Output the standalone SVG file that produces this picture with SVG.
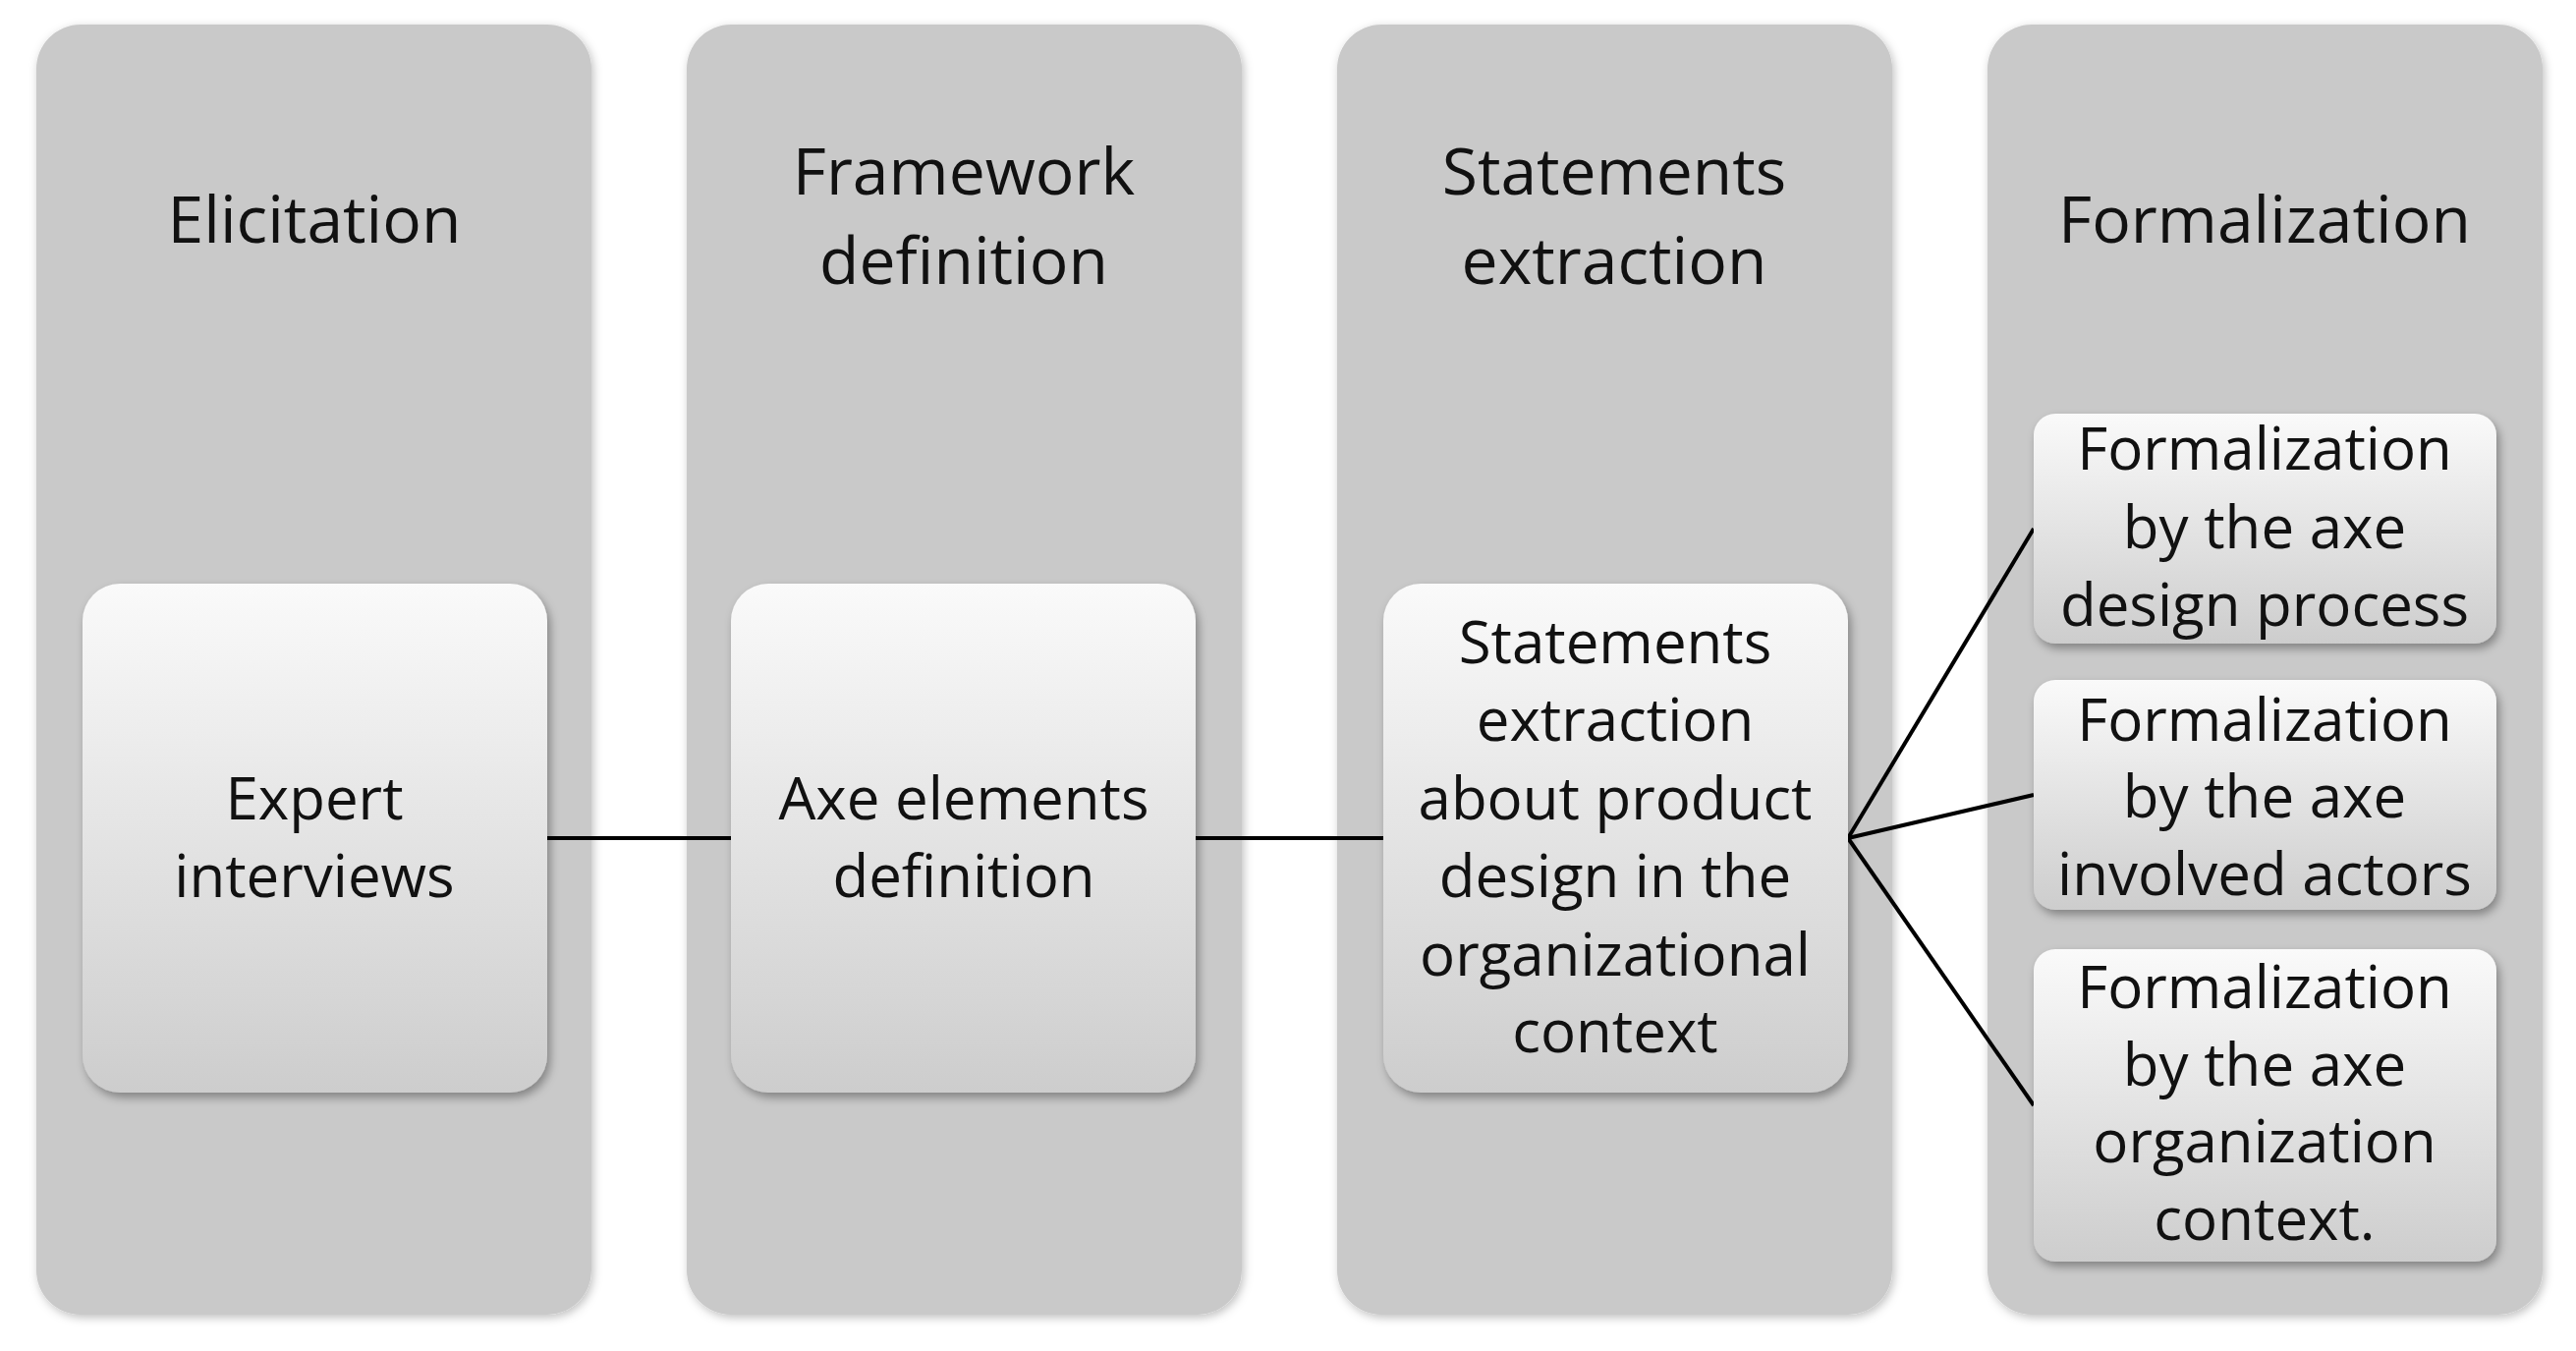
<svg xmlns="http://www.w3.org/2000/svg" width="2622" height="1375" viewBox="0 0 2622 1375">
<style>
.col{fill:#c9c9c9}
.box{fill:url(#g);filter:url(#sh)}
.t{font-family:"Open Sans",sans-serif;font-size:66px;fill:#111;text-anchor:middle;dominant-baseline:central}
.s{font-family:"Open Sans",sans-serif;font-size:60px;fill:#111;text-anchor:middle;dominant-baseline:central}
.c{stroke:#000;stroke-width:4;fill:none}
</style>
<defs>
<linearGradient id="g" x1="0" y1="0" x2="0" y2="1"><stop offset="0" stop-color="#fafafa"/><stop offset="1" stop-color="#cdcdcd"/></linearGradient>
<filter id="sh" x="-10%" y="-10%" width="130%" height="130%"><feDropShadow dx="3" dy="5" stdDeviation="5" flood-color="#000" flood-opacity="0.35"/></filter>
<filter id="sh2" x="-10%" y="-10%" width="130%" height="130%"><feDropShadow dx="2" dy="3" stdDeviation="5" flood-color="#000" flood-opacity="0.25"/></filter>
</defs>
<rect width="2622" height="1375" fill="#fff"/>
<g id="col1"><rect class="col" filter="url(#sh2)" x="37" y="25" width="565" height="1313" rx="45"/><text class="t" x="320" y="221">Elicitation</text></g>
<g id="col2"><rect class="col" filter="url(#sh2)" x="699" y="25" width="565" height="1313" rx="45"/><text class="t" x="981" y="172">Framework</text><text class="t" x="981" y="263">definition</text></g>
<g id="col3"><rect class="col" filter="url(#sh2)" x="1361" y="25" width="565" height="1313" rx="45"/><text class="t" x="1643" y="172">Statements</text><text class="t" x="1643" y="263">extraction</text></g>
<g id="col4"><rect class="col" filter="url(#sh2)" x="2023" y="25" width="565" height="1313" rx="45"/><text class="t" x="2305" y="221">Formalization</text></g>
<g id="connectors">
<line class="c" x1="557" y1="853" x2="744" y2="853"/>
<line class="c" x1="1217" y1="853" x2="1408" y2="853"/>
<line class="c" x1="1881" y1="853" x2="2070" y2="538"/>
<line class="c" x1="1881" y1="853" x2="2070" y2="809"/>
<line class="c" x1="1881" y1="853" x2="2070" y2="1125"/>
</g>
<g id="n1"><rect class="box" x="84" y="594" width="473" height="518" rx="38"/><text class="s" x="320" y="811">Expert</text><text class="s" x="320" y="890">interviews</text></g>
<g id="n2"><rect class="box" x="744" y="594" width="473" height="518" rx="38"/><text class="s" x="981" y="811">Axe elements</text><text class="s" x="981" y="890">definition</text></g>
<g id="n3"><rect class="box" x="1408" y="594" width="473" height="518" rx="38"/>
<text class="s" x="1644" y="652">Statements</text><text class="s" x="1644" y="731">extraction</text><text class="s" x="1644" y="811">about product</text><text class="s" x="1644" y="890">design in the</text><text class="s" x="1644" y="970">organizational</text><text class="s" x="1644" y="1048">context</text></g>
<g id="n4"><rect class="box" x="2070" y="421" width="471" height="234" rx="22"/><text class="s" x="2305" y="455">Formalization</text><text class="s" x="2305" y="535">by the axe</text><text class="s" x="2305" y="614">design process</text></g>
<g id="n5"><rect class="box" x="2070" y="692" width="471" height="234" rx="22"/><text class="s" x="2305" y="731">Formalization</text><text class="s" x="2305" y="809">by the axe</text><text class="s" x="2305" y="888">involved actors</text></g>
<g id="n6"><rect class="box" x="2070" y="966" width="471" height="318" rx="22"/><text class="s" x="2305" y="1003">Formalization</text><text class="s" x="2305" y="1082">by the axe</text><text class="s" x="2305" y="1160">organization</text><text class="s" x="2305" y="1239">context.</text></g>
</svg>
